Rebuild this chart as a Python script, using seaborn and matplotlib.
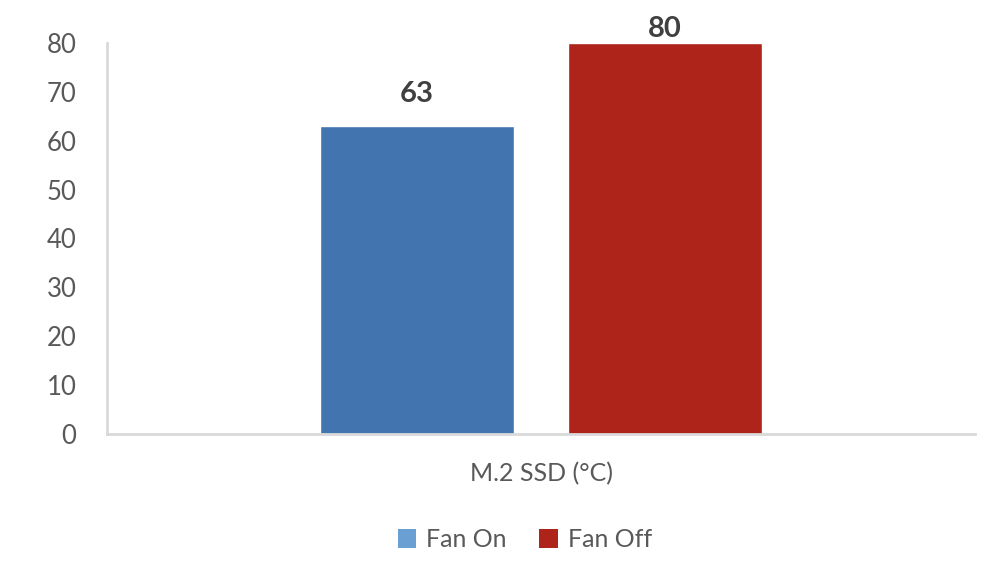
import pandas as pd
import matplotlib
matplotlib.use("Agg")
import matplotlib.pyplot as plt
from matplotlib.patches import Patch
import seaborn as sns

# ─── Data ─────────────────────────────────────────────────────────────────────
categories = ["M.2 SSD (°C)"]
series = ["Fan On", "Fan Off"]
values = [63, 80]
bar_colors = ["#4275b0", "#ae231a"]
legend_colors = ["#6a9fd4", "#ae231a"]
y_ticks = [0, 10, 20, 30, 40, 50, 60, 70, 80]

df = pd.DataFrame({
    "category": categories * len(series),
    "series": series,
    "value": values,
})

sns.set_theme(style="white")
plt.rcParams["font.family"] = ["Lato", "DejaVu Sans"]

fig = plt.figure(figsize=(10, 5.7), dpi=100)
ax = fig.add_axes([0.107, 0.2386, 0.868, 0.686])

sns.barplot(data=df, x="category", y="value", hue="series",
            palette=bar_colors, width=0.571, gap=0.214,
            saturation=1, ax=ax, legend=False)

# the top label sits close to its bar (chart edge), the other one higher
for cont, pad in zip(ax.containers, [14, 1]):
    ax.bar_label(cont, fmt="%d", padding=pad, fontsize=21,
                 fontweight="bold", color="#404040", clip_on=False)

ax.set_ylim(0, 80)
ax.set_xlim(-0.5, 0.5)
ax.set_yticks(y_ticks)
ax.tick_params(axis="y", length=0, pad=22, labelsize=18.5, labelcolor="#595959")
ax.tick_params(axis="x", length=0, pad=20, labelsize=18, labelcolor="#595959")
ax.set_xlabel("")
ax.set_ylabel("")

sns.despine(ax=ax, top=True, right=True)
for side in ["left", "bottom"]:
    ax.spines[side].set_color("#d9d9d9")
    ax.spines[side].set_linewidth(2)

handles = [Patch(facecolor=c, edgecolor="none", label=s)
           for s, c in zip(series, legend_colors)]
fig.legend(handles=handles, loc="center", bbox_to_anchor=(0.525, 0.053),
           ncol=2, frameon=False, fontsize=18, labelcolor="#595959",
           handlelength=0.75, handleheight=0.75, handletextpad=0.4,
           columnspacing=1.3)

fig.savefig("out.png", dpi=100)
